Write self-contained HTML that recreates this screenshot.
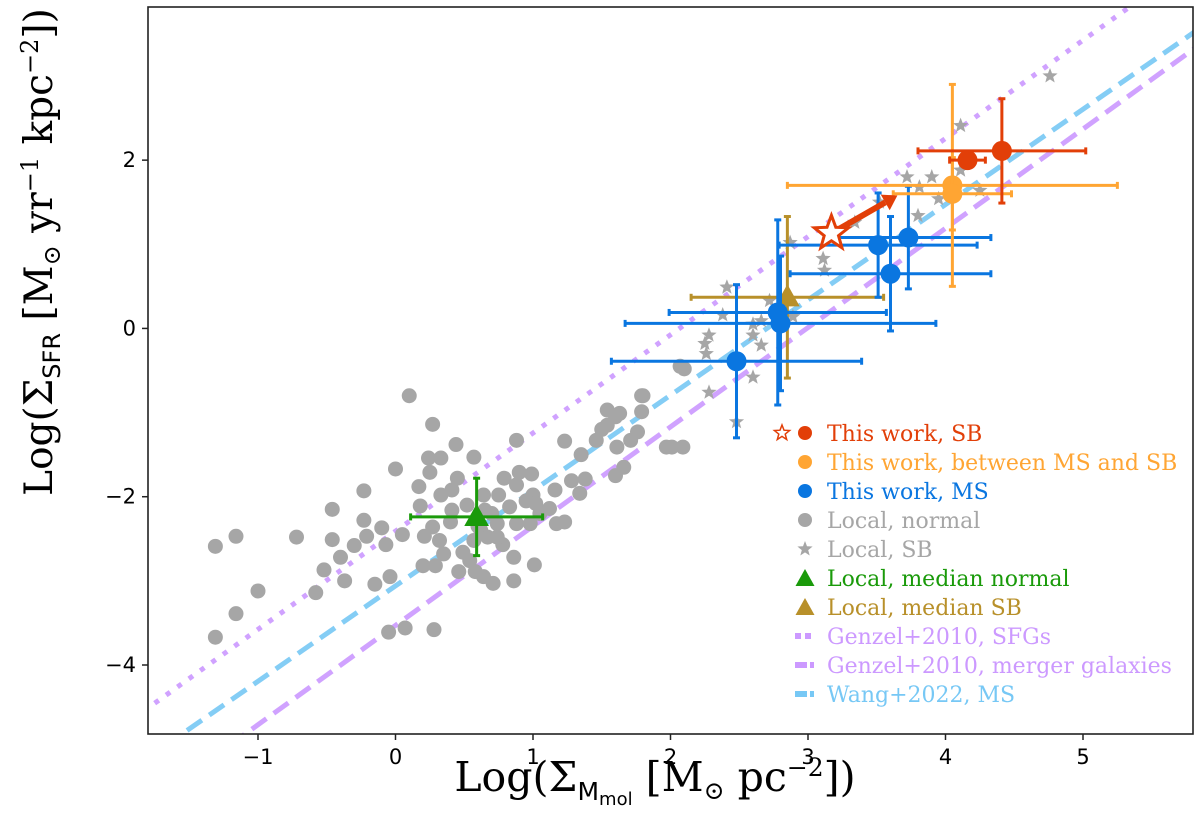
<!DOCTYPE html>
<html><head><meta charset="utf-8">
<style>
html,body{margin:0;padding:0;background:#fff;}
svg{display:block;}
text{font-family:"DejaVu Sans","Liberation Sans",sans-serif;}
.serif{font-family:"DejaVu Serif","Liberation Serif",serif;}
</style></head>
<body>
<svg id="chart" width="1200" height="832" viewBox="0 0 1200 832" xmlns="http://www.w3.org/2000/svg">
  <defs><clipPath id="clip"><rect x="148" y="7" width="1045" height="727"/></clipPath></defs>
  <g id="lines" clip-path="url(#clip)"></g>
  <g id="gray" clip-path="url(#clip)"></g>
  <g id="work" clip-path="url(#clip)"></g>
  <rect x="148" y="7" width="1045" height="727" fill="none" stroke="#222" stroke-width="1.6"/>
  <g id="axes"></g>
  <text class="serif" x="655" y="791" font-size="41" text-anchor="middle" fill="#000">Log(Σ<tspan font-family="DejaVu Sans" font-size="25" dy="9">M</tspan><tspan font-family="DejaVu Sans" font-size="18" dy="5">mol</tspan><tspan dy="-14"> [M</tspan><tspan font-size="25" dy="8">⊙</tspan><tspan dy="-8"> pc</tspan><tspan font-size="25" dy="-15">−2</tspan><tspan dy="15">])</tspan></text>
  <text class="serif" transform="translate(52,252) rotate(-90)" font-size="39" text-anchor="middle" fill="#000">Log(Σ<tspan font-family="DejaVu Sans" font-size="24" dy="8">SFR</tspan><tspan dy="-8"> [M</tspan><tspan font-size="24" dy="8">⊙</tspan><tspan dy="-8"> yr</tspan><tspan font-size="24" dy="-14">−1</tspan><tspan dy="14"> kpc</tspan><tspan font-size="24" dy="-14">−2</tspan><tspan dy="14">])</tspan></text>
  <g id="legend"></g>
</svg>
<script>
const xTicks = [-1,0,1,2,3,4,5];
const yTicks = [-4,-2,0,2];
const localNormalX = [0.10,0.27,0.44,0.24,0.33,0.57,0.25,0.00,0.45,0.17,-0.23,-0.46,-0.23,-0.10,-0.21,-0.46,-0.30,-0.07,0.05,-0.40,-0.52,-0.37,-0.58,-0.15,-0.04,-0.72,-1.16,-1.31,-1.00,-1.16,-1.31,0.28,0.07,-0.05,0.20,0.29,0.46,0.58,0.64,0.71,0.86,1.01,0.86,0.78,0.49,0.35,0.32,0.27,0.21,0.18,0.33,0.41,0.41,0.52,0.64,0.65,0.75,0.79,0.88,0.90,0.99,0.88,0.83,0.88,0.74,0.98,1.00,1.02,1.12,1.16,1.23,1.17,1.23,1.34,1.28,1.38,1.35,1.46,1.54,1.63,1.54,1.60,1.66,1.61,1.71,1.76,1.80,1.79,1.97,0.57,0.62,0.67,0.54,0.74,2.01,2.09,2.07,2.10,1.79,1.60,1.50,0.95,1.05,0.70,0.60,0.40];
const localNormalY = [-0.80,-1.14,-1.38,-1.54,-1.54,-1.53,-1.71,-1.67,-1.78,-1.88,-1.93,-2.15,-2.28,-2.37,-2.47,-2.51,-2.58,-2.57,-2.45,-2.72,-2.87,-3.00,-3.14,-3.04,-2.95,-2.48,-2.47,-2.59,-3.12,-3.39,-3.67,-3.58,-3.56,-3.61,-2.82,-2.82,-2.89,-2.89,-2.95,-3.03,-3.00,-2.81,-2.72,-2.57,-2.66,-2.68,-2.52,-2.36,-2.47,-2.11,-1.98,-1.92,-2.16,-2.10,-1.98,-2.16,-1.98,-1.78,-1.86,-1.71,-1.73,-1.33,-2.12,-2.32,-2.32,-2.32,-1.98,-2.08,-2.14,-1.92,-1.34,-2.32,-2.30,-1.96,-1.81,-1.79,-1.50,-1.33,-0.97,-1.01,-1.15,-1.75,-1.65,-1.41,-1.33,-1.23,-0.80,-0.99,-1.41,-2.52,-2.40,-2.48,-2.76,-2.48,-1.41,-1.41,-0.45,-0.48,-0.80,-1.05,-1.20,-2.05,-2.20,-2.20,-2.35,-2.30];
const localSBX = [4.76,4.11,3.72,3.90,3.81,3.95,4.25,4.11,3.80,3.52,3.34,3.11,3.12,2.87,2.41,2.72,2.38,2.60,2.66,2.89,2.60,2.28,2.25,2.66,2.26,2.60,2.28,2.48];
const localSBY = [3.00,2.41,1.80,1.80,1.68,1.54,1.64,1.88,1.34,1.50,1.26,0.83,0.69,1.02,0.49,0.33,0.16,0.05,0.09,0.14,-0.08,-0.08,-0.18,-0.20,-0.30,-0.58,-0.76,-1.11];
const msX = [3.73,3.51,3.60,2.78,2.80,2.48];
const msY = [1.08,0.99,0.65,0.19,0.06,-0.39];
const msXerr = [0.60,0.72,0.73,0.79,1.13,0.91];
const msYerr = [0.61,0.62,0.68,1.10,0.80,0.91];
const midX = [4.05,4.05];
const midY = [1.70,1.60];
const midXerr = [1.20,0.43];
const midYerr = [1.20,0.43];
const sbX = [4.41,4.16];
const sbY = [2.11,2.00];
const sbXerr = [0.61,0.13];
const sbYerr = [0.62,0.05];
const starX = [3.17]; const starY = [1.13];
const arrowEndX = [3.65]; const arrowEndY = [1.58];
const medNormal = [0.59,-2.24,0.48,0.46];
const medSB = [2.85,0.37,0.70,0.96];
const relSlope = [1.167,1.18,1.133];
const relIntercept = [-2.41,-3.53,-3.06];

const X0=-1.8,X1=5.8,Y0=-4.82,Y1=3.82,PL=148,PR=1193,PT=7,PB=734;
const sx=v=>PL+(v-X0)/(X1-X0)*(PR-PL);
const sy=v=>PB-(v-Y0)/(Y1-Y0)*(PB-PT);
const NS='http://www.w3.org/2000/svg';
function mk(tag,attrs,parent){const e=document.createElementNS(NS,tag);for(const k in attrs)e.setAttribute(k,attrs[k]);parent.appendChild(e);return e;}
const axes=document.getElementById('axes');
xTicks.forEach(t=>{
  const g=mk('g',{},axes);
  
  
  mk('line',{x1:sx(t),x2:sx(t),y1:PB,y2:PB+6,stroke:'#222','stroke-width':1.5},g);
  const tx=mk('text',{x:sx(t),y:PB+30,'font-size':21,'text-anchor':'middle'},g);tx.textContent=t<0?'−'+(-t):t;
});
yTicks.forEach(t=>{
  const g=mk('g',{},axes);
  
  
  mk('line',{x1:PL-6,x2:PL,y1:sy(t),y2:sy(t),stroke:'#222','stroke-width':1.5},g);
  const tx=mk('text',{x:PL-12,y:sy(t)+7,'font-size':21,'text-anchor':'end'},g);tx.textContent=t<0?'−'+(-t):t;
});
const lines=document.getElementById('lines');
const lstyle=[{c:'#cc99ff',d:'5 9'},{c:'#cc99ff',d:'18 9'},{c:'#77c8f5',d:'18 9'}];
const lnames=['genzel-sfg-line','genzel-merger-line','wang-ms-line'];
relSlope.forEach((m,i)=>{
  const l=mk('line',{x1:sx(-2),y1:sy(m*-2+relIntercept[i]),x2:sx(6),y2:sy(m*6+relIntercept[i]),stroke:lstyle[i].c,'stroke-width':5,'stroke-dasharray':lstyle[i].d,opacity:0.9},lines);
  
  
});
function starPts(cx,cy,R,r){let p=[];for(let k=0;k<10;k++){const a=-Math.PI/2+k*Math.PI/5;const rr=k%2?r:R;p.push((cx+rr*Math.cos(a)).toFixed(1)+','+(cy+rr*Math.sin(a)).toFixed(1));}return p.join(' ');}
function triPts(cx,cy,s){return `${cx},${cy-s} ${cx-s*0.95},${cy+s*0.7} ${cx+s*0.95},${cy+s*0.7}`;}
const gray=document.getElementById('gray');
localNormalX.forEach((v,i)=>{
  const c=mk('circle',{cx:sx(v),cy:sy(localNormalY[i]),r:7.5,fill:'#a6a6a6'},gray);
  
  
});
localSBX.forEach((v,i)=>{
  const s=mk('polygon',{points:starPts(sx(v),sy(localSBY[i]),8,3.4),fill:'#a6a6a6'},gray);
  
  
});
const work=document.getElementById('work');
function errbar(x,y,xe,ye,col,name){
  const g=mk('g',{},work);
  
  
  const a={stroke:col,'stroke-width':3};
  mk('line',Object.assign({x1:sx(x-xe),x2:sx(x+xe),y1:sy(y),y2:sy(y)},a),g);
  mk('line',Object.assign({x1:sx(x),x2:sx(x),y1:sy(y-ye),y2:sy(y+ye)},a),g);
  [[sx(x-xe),sy(y)],[sx(x+xe),sy(y)]].forEach(p=>mk('line',Object.assign({x1:p[0],x2:p[0],y1:p[1]-3.5,y2:p[1]+3.5},a),g));
  [[sx(x),sy(y-ye)],[sx(x),sy(y+ye)]].forEach(p=>mk('line',Object.assign({x1:p[0]-3.5,x2:p[0]+3.5,y1:p[1],y2:p[1]},a),g));
  return g;
}
errbar(medSB[0],medSB[1],medSB[2],medSB[3],'#b8902a','median-sb-errorbar');
const t2=mk('polygon',{points:triPts(sx(medSB[0]),sy(medSB[1]),13),fill:'#b8902a'},work);


msX.forEach((v,i)=>{
  const g=errbar(v,msY[i],msXerr[i],msYerr[i],'#0a76e0','ms-point');
  mk('circle',{cx:sx(v),cy:sy(msY[i]),r:10,fill:'#0a76e0'},g);
});
midX.forEach((v,i)=>{
  const g=errbar(v,midY[i],midXerr[i],midYerr[i],'#ffa533','mid-point');
  mk('circle',{cx:sx(v),cy:sy(midY[i]),r:10,fill:'#ffa533'},g);
});
sbX.forEach((v,i)=>{
  const g=errbar(v,sbY[i],sbXerr[i],sbYerr[i],'#e23f08','sb-point');
  mk('circle',{cx:sx(v),cy:sy(sbY[i]),r:10,fill:'#e23f08'},g);
});
const ax1=sx(starX[0]),ay1=sy(starY[0]),ax2=sx(arrowEndX[0]),ay2=sy(arrowEndY[0]);
const ang=Math.atan2(ay2-ay1,ax2-ax1);
const bx=ax2-14*Math.cos(ang),by=ay2-14*Math.sin(ang);
const arr=mk('g',{},work);


mk('line',{x1:ax1,y1:ay1,x2:bx,y2:by,stroke:'#e23f08','stroke-width':6},arr);
mk('polygon',{points:`${ax2},${ay2} ${bx+9*Math.sin(ang)},${by-9*Math.cos(ang)} ${bx-9*Math.sin(ang)},${by+9*Math.cos(ang)}`,fill:'#e23f08'},arr);
const st=mk('polygon',{points:starPts(ax1,ay1,18,7.5),fill:'#fff',stroke:'#e23f08','stroke-width':3},work);


errbar(medNormal[0],medNormal[1],medNormal[2],medNormal[3],'#1a9a0a','median-normal-errorbar');
const t1=mk('polygon',{points:triPts(sx(medNormal[0]),sy(medNormal[1]),13),fill:'#1a9a0a'},work);


const leg=document.getElementById('legend');
const labels=['This work, SB','This work, between MS and SB','This work, MS','Local, normal','Local, SB','Local, median normal','Local, median SB','Genzel+2010, SFGs','Genzel+2010, merger galaxies','Wang+2022, MS'];
const cols=['#e23f08','#ffa533','#0a76e0','#a6a6a6','#a6a6a6','#1a9a0a','#b8902a','#cc99ff','#cc99ff','#77c8f5'];
labels.forEach((t,i)=>{
  const y=433+i*29;
  const g=mk('g',{},leg);
  
  
  const mx=805;
  if(i===0){mk('polygon',{points:starPts(782,y,8,3.4),fill:'#fff',stroke:cols[0],'stroke-width':1.5},g);}
  if(i<=3) mk('circle',{cx:mx,cy:y,r:7,fill:cols[i]},g);
  else if(i===4) mk('polygon',{points:starPts(mx,y,8,3.4),fill:cols[i]},g);
  else if(i<=6) mk('polygon',{points:triPts(mx,y+1,10),fill:cols[i]},g);
  else if(i===7){mk('rect',{x:795,y:y-3,width:6,height:6,fill:cols[i]},g);mk('rect',{x:805,y:y-3,width:6,height:6,fill:cols[i]},g);}
  else {mk('rect',{x:795,y:y-3,width:12,height:6,fill:cols[i]},g);mk('rect',{x:810,y:y-3,width:4,height:6,fill:cols[i]},g);}
  const tx=mk('text',{x:827,y:y+8,'font-size':22,fill:cols[i],class:'serif'},g);tx.textContent=t;
});
</script>
</body></html>
